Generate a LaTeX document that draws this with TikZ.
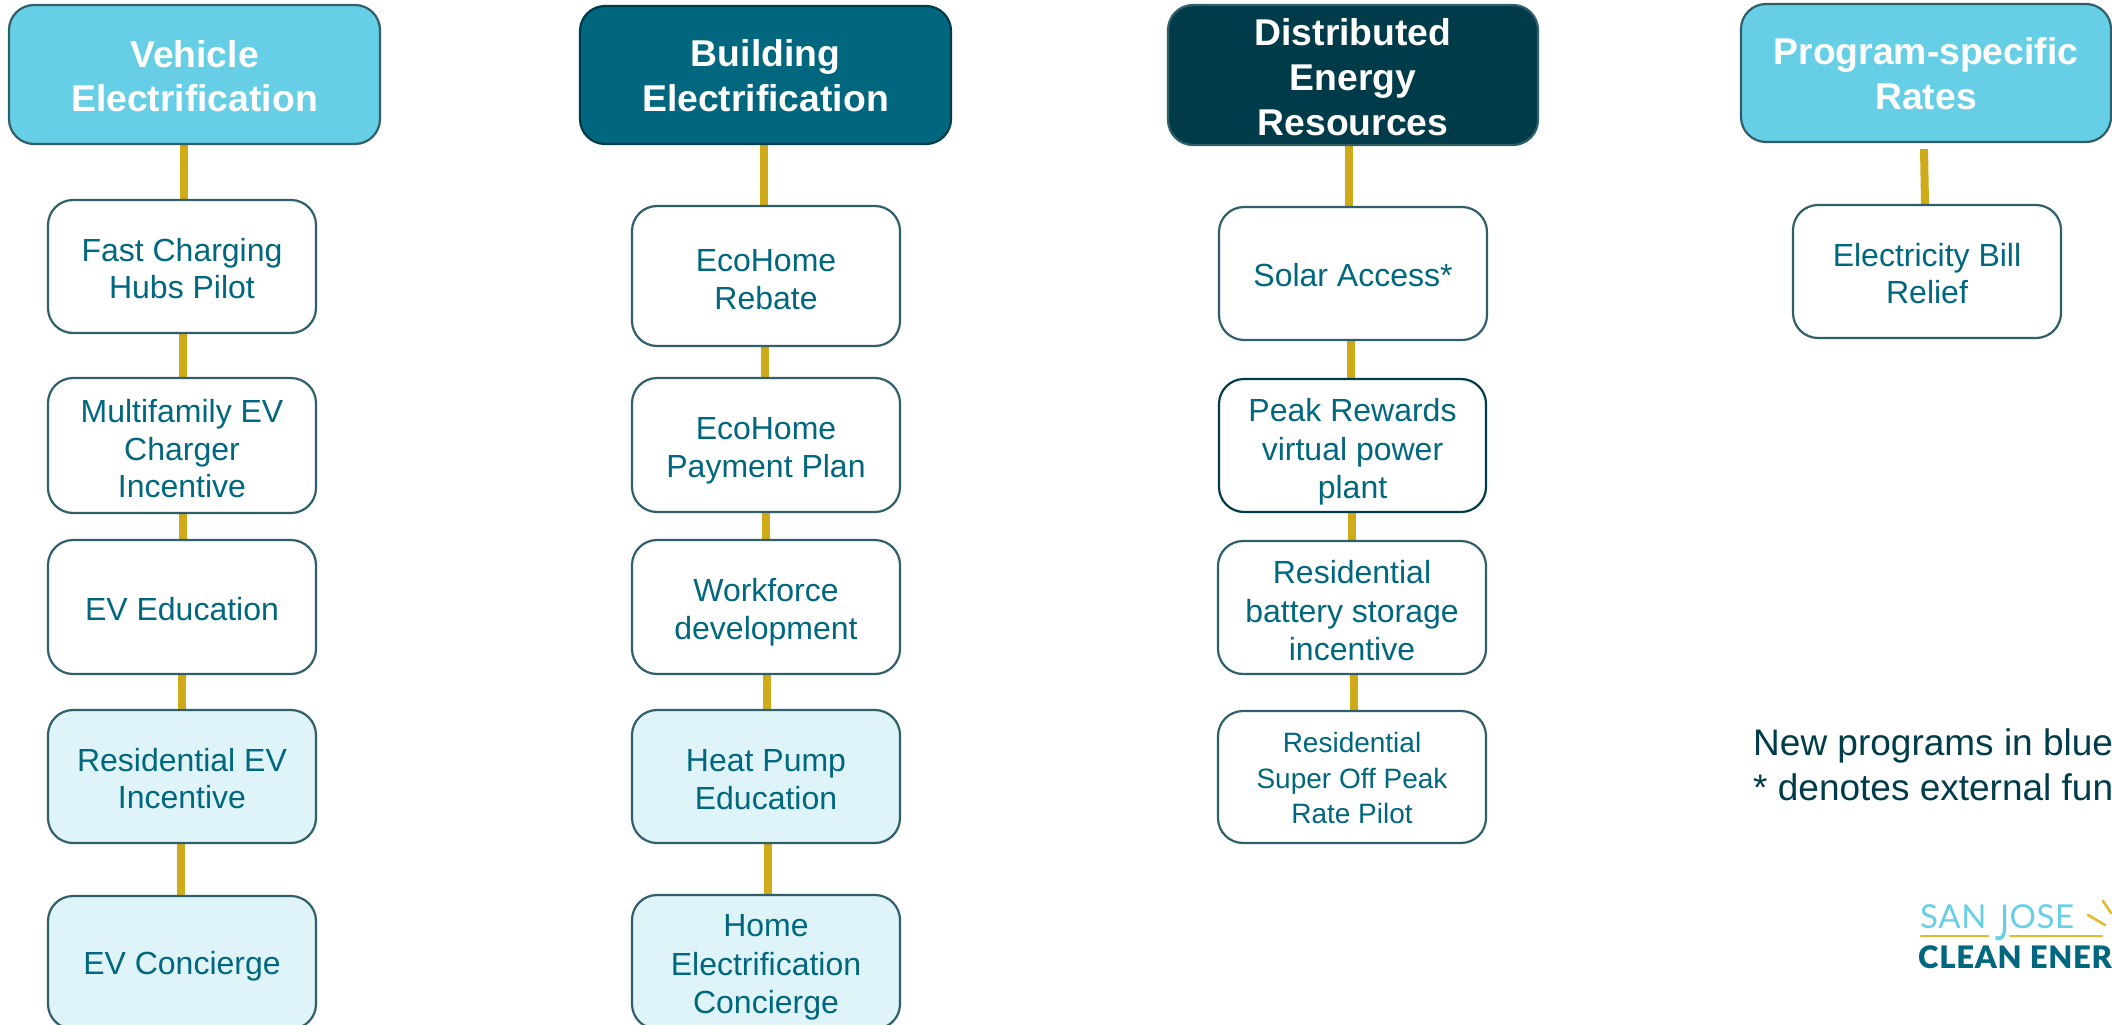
\documentclass[tikz,border=0pt]{standalone}
\usepackage{fontspec}
\usepackage{graphicx}
\setmainfont{Liberation Sans}
\newfontfamily\logofont[LetterSpace=2]{Lato}
\newfontfamily\logoheavy[LetterSpace=2.5]{Lato Black}
\usetikzlibrary{backgrounds}
\definecolor{skyblue}{HTML}{66CFE6}
\definecolor{midteal}{HTML}{00677F}
\definecolor{darkteal}{HTML}{003B4A}
\definecolor{edgeteal}{HTML}{2F5F6B}
\definecolor{paleblue}{HTML}{DFF4F9}
\definecolor{goldbar}{HTML}{CFAB1A}
\definecolor{logogold}{HTML}{E3B92F}
\tikzset{
  x=1pt,y=-1pt,
  boxbase/.style={draw=edgeteal,line width=2.2pt,rounded corners=25pt,inner sep=0pt},
  headbox/.style={boxbase,text=white,font=\bfseries\fontsize{37.3}{45}\selectfont},
  progbox/.style={boxbase,fill=white,text=midteal,font=\fontsize{32}{37.5}\selectfont},
  tallbox/.style={progbox,font=\fontsize{32}{38.5}\selectfont},
  newbox/.style={progbox,fill=paleblue},
  link/.style={draw=goldbar,line width=8pt},
  notetext/.style={inner sep=0pt,anchor=base west,text=darkteal,font=\fontsize{37}{45}\selectfont},
  logoline/.style={draw=logogold,line width=2.6pt,line cap=round},
}
\newcommand{\linesdown}[2]{\raisebox{0pt}[\dimexpr\height-\depth+#1pt*2+8pt\relax][0pt]{\begin{tabular}{@{}c@{}}#2\end{tabular}}}
% name, top, left, right, bottom, style, lines, text drop
\newcommand{\bx}[8]{%
  \node[#6,minimum width={(#4-#3)*1pt},minimum height={(#5-#2)*1pt}] (#1) at ({(#3+#4)/2},{(#2+#5)/2}) {\linesdown{#8}{#7}};}
\begin{document}
\begin{tikzpicture}
\useasboundingbox (0,0) rectangle (2112,1025);
% column 1
\bx{hA}{5}{9}{380}{144}{headbox,fill=skyblue}{Vehicle\\Electrification}{2}
\bx{aA}{200}{48}{316}{333}{progbox}{Fast Charging\\Hubs Pilot}{2}
\bx{aB}{378}{48}{316}{513}{progbox}{Multifamily EV\\Charger\\Incentive}{3}
\bx{aC}{540}{48}{316}{674}{progbox}{EV Education}{1.5}
\bx{aD}{710}{48}{316}{843}{newbox}{Residential EV\\Incentive}{2}
\bx{aE}{896}{48}{316}{1029}{newbox}{EV Concierge}{0.5}
% column 2
\bx{hB}{6}{580}{951}{144}{headbox,fill=midteal,draw=darkteal}{Building\\Electrification}{1}
\bx{bA}{206}{632}{900}{346}{progbox}{EcoHome\\Rebate}{3}
\bx{bB}{378}{632}{900}{512}{progbox}{EcoHome\\Payment Plan}{2}
\bx{bC}{540}{632}{900}{674}{progbox}{Workforce\\development}{2}
\bx{bD}{710}{632}{900}{843}{newbox}{Heat Pump\\Education}{2.5}
\bx{bE}{895}{632}{900}{1029}{newbox,tallbox,fill=paleblue}{Home\\Electrification\\Concierge}{1.5}
% column 3
\bx{hC}{5}{1168}{1538}{145}{headbox,fill=darkteal}{Distributed\\Energy\\Resources}{2.5}
\bx{cA}{207}{1219}{1487}{340}{progbox}{Solar Access*}{1.5}
\bx{cB}{379}{1219}{1486}{512}{tallbox,draw=darkteal}{Peak Rewards\\virtual power\\plant}{3}
\bx{cC}{541}{1218}{1486}{674}{tallbox}{Residential\\battery storage\\incentive}{3}
\bx{cD}{711}{1218}{1486}{843}{progbox,font=\fontsize{28}{35.5}\selectfont}{Residential\\Super Off Peak\\Rate Pilot}{0}
% column 4
\bx{hD}{4}{1741}{2111}{142}{headbox,fill=skyblue}{Program-specific\\Rates}{1}
\bx{dA}{205}{1793}{2061}{338}{progbox}{Electricity Bill\\Relief}{2}
% connectors
\begin{pgfonlayer}{background}
\draw[link] ([xshift=-10.5pt]hA.south) -- ([xshift=2pt]aA.north);
\draw[link] ([xshift=1pt]aA.south) -- ([xshift=1pt]aB.north);
\draw[link] ([xshift=0.5pt]aB.south) -- ([xshift=0.5pt]aC.north);
\draw[link] ([xshift=0pt]aC.south) -- ([xshift=0pt]aD.north);
\draw[link] ([xshift=-1pt]aD.south) -- ([xshift=-1pt]aE.north);
\draw[link] ([xshift=-1.5pt]hB.south) -- ([xshift=-2pt]bA.north);
\draw[link] ([xshift=-1pt]bA.south) -- ([xshift=-1pt]bB.north);
\draw[link] ([xshift=0pt]bB.south) -- ([xshift=0pt]bC.north);
\draw[link] ([xshift=1pt]bC.south) -- ([xshift=1pt]bD.north);
\draw[link] ([xshift=2pt]bD.south) -- ([xshift=2pt]bE.north);
\draw[link] ([xshift=-4pt]hC.south) -- ([xshift=-4pt]cA.north);
\draw[link] ([xshift=-2pt]cA.south) -- ([xshift=-1.5pt]cB.north);
\draw[link] ([xshift=-0.5pt]cB.south) -- ([xshift=0pt]cC.north);
\draw[link] ([xshift=2pt]cC.south) -- ([xshift=2pt]cD.north);
\draw[link] ([xshift=-2pt,yshift=-6pt]hD.south) -- ([xshift=-2pt]dA.north);
\end{pgfonlayer}
% note
\node[notetext] (noteA) at (1753,755) {New programs in blue};
\node[notetext] (noteB) at (1753,800) {* denotes external fun};
% logo
\draw[logoline] (1921,936) -- (1988,936);
\draw[logoline] (2010,936) -- (2102,936);
\draw[logoline] (2088,915) -- (2105,925);
\draw[logoline] (2103,901) -- (2111,913);
\node[inner sep=0pt,anchor=base west,text=skyblue,font=\logofont\fontsize{33}{33}\selectfont] (logoA) at (1920,928) {SAN \smash{\raisebox{-12pt}{\scalebox{1}[1.5]{J}}}OSE};
\node[inner sep=0pt,anchor=base west,text=midteal,font=\logoheavy\fontsize{31}{31}\selectfont] (logoB) at (1918,968) {CLEAN ENER};
\end{tikzpicture}
\end{document}
